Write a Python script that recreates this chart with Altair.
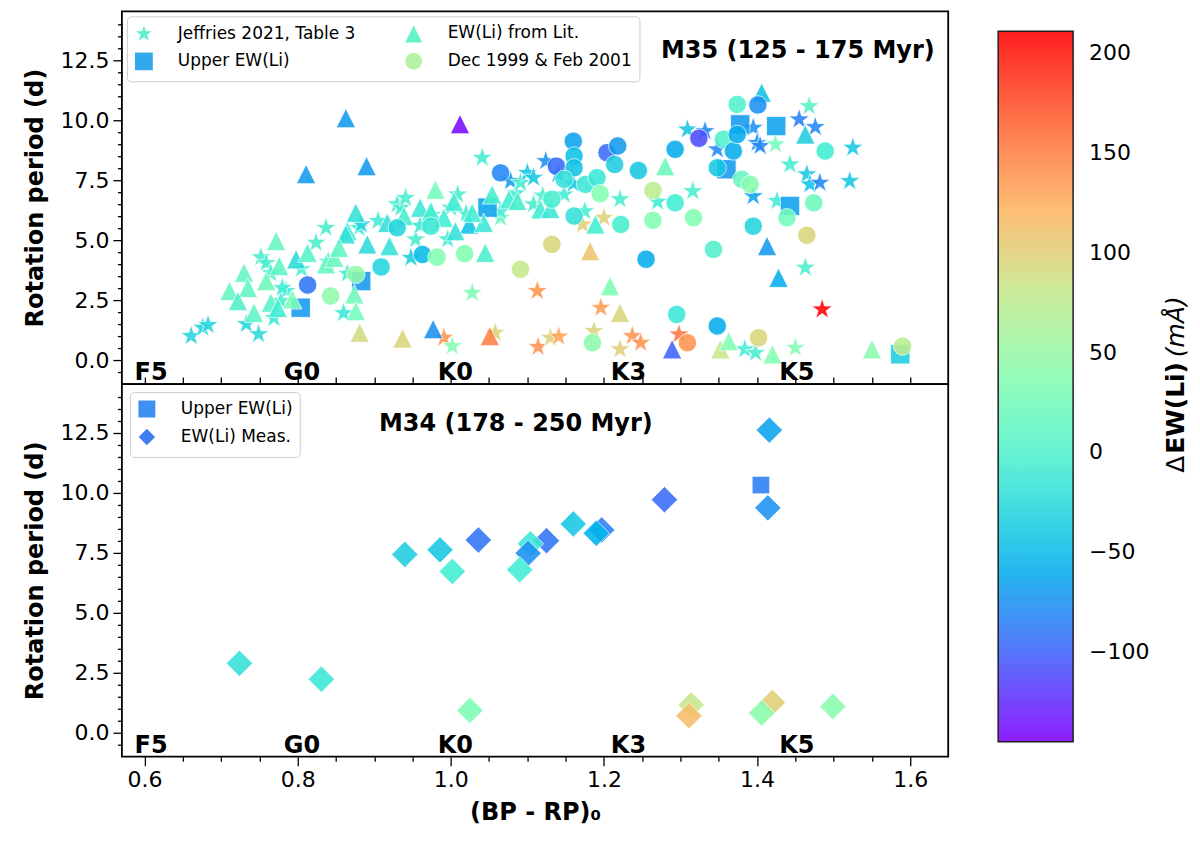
import altair as alt
import pandas as pd

# ---------------- M35 (top panel) ----------------
# Jeffries 2021, Table 3 (stars)
j21_bprp = [0.661, 0.676, 0.683, 0.733, 0.749, 0.752, 0.759, 0.765, 0.785, 0.769,
            0.778, 0.780, 0.805, 0.824, 0.837, 0.840, 0.860, 0.865, 0.880, 0.883,
            0.905, 0.930, 0.935, 0.941, 0.948, 0.954, 0.960, 0.975, 0.996, 1.000,
            1.009, 1.020, 1.028, 0.991, 1.002, 1.041, 1.050, 1.058, 1.065, 1.065,
            1.078, 1.085, 1.091, 1.100, 1.108, 1.108, 1.113, 1.114, 1.120, 1.124,
            1.130, 1.140, 1.141, 1.148, 1.160, 1.172, 1.175, 1.187, 1.196, 1.200,
            1.221, 1.221, 1.237, 1.248, 1.270, 1.298, 1.309, 1.316, 1.332, 1.348,
            1.384, 1.395, 1.395, 1.398, 1.400, 1.404, 1.424, 1.426, 1.443, 1.450,
            1.455, 1.463, 1.465, 1.468, 1.469, 1.476, 1.482, 1.485, 1.521, 1.525]
j21_prot = [1.00, 1.35, 1.46, 1.50, 1.08, 4.29, 4.04, 3.62, 2.88, 1.75,
            2.46, 3.01, 3.80, 4.89, 5.51, 4.10, 1.96, 3.60, 5.51, 5.65,
            5.80, 6.49, 6.35, 6.76, 4.26, 5.03, 5.60, 6.05, 5.03, 6.35,
            6.90, 6.10, 2.80, 0.93, 0.58, 8.43, 6.60, 1.14, 5.93, 6.20,
            7.46, 6.95, 7.39, 7.80, 7.60, 6.49, 2.88, 0.55, 6.85, 8.29,
            0.93, 7.75, 0.98, 6.90, 7.35, 5.65, 6.20, 1.21, 2.18, 5.93,
            6.70, 0.45, 1.00, 0.72, 6.60, 1.07, 9.61, 7.04, 9.54, 8.78,
            0.45, 9.68, 6.83, 0.30, 9.05, 8.92, 8.99, 6.63, 8.15, 0.51,
            10.03, 3.85, 7.74, 10.58, 7.32, 9.71, 7.39, 2.11, 7.46, 8.85]
j21_dew = [-30, -30, -28, -30, -25, -5, -8, -5, -10, -15,
           -5, -10, -5, -5, -5, -10, -15, -10, -10, -30,
           -10, -10, -10, -5, -35, -5, -15, -5, -10, -10,
           -5, -10, 30, 140, 35, -10, -8, 100, 20, -10,
           -70, -12, -10, -40, -40, -5, 140, 140, 0, -75,
           100, -50, 130, -10, -40, 100, -5, 95, 135, 100,
           -5, 100, 140, 140, -10, 155, -40, -5, -80, -80,
           -10, -75, -65, -5, -75, -80, 25, -10, -10, 35,
           -85, -5, -40, 5, -45, -80, -80, 211, -40, -40]

# Upper EW(Li) (squares)
up35_bprp = [0.804, 0.883, 1.048, 1.378, 1.425, 1.360, 1.443, 1.587]
up35_prot = [2.18, 3.29, 6.35, 9.82, 9.75, 7.95, 6.42, 0.24]
up35_dew = [-70, -70, -65, -70, -65, -70, -65, -35]

# EW(Li) from Lit. (triangles)
lit_bprp = [0.863, 1.012, 0.811, 0.890, 0.881, 0.937, 0.977, 1.051, 0.980, 0.876,
            1.004, 1.054, 1.076, 1.087, 1.045, 0.891, 0.920, 0.874, 0.876, 0.917,
            0.939, 0.960, 0.974, 0.991, 1.024, 1.043, 1.028, 1.006, 0.865, 0.863,
            0.772, 0.730, 0.711, 0.735, 0.743, 0.759, 0.776, 0.765, 0.774, 0.798,
            0.813, 0.793, 0.837, 0.848, 0.854, 0.722, 1.117, 1.130, 1.280, 1.189,
            1.182, 1.208, 1.221, 1.289, 1.352, 1.363, 1.406, 1.463, 1.413, 1.428,
            1.420, 1.550]
lit_prot = [10.08, 9.83, 7.75, 8.08, 1.14, 0.90, 1.29, 1.00, 7.10, 6.14,
            6.60, 6.90, 6.70, 6.63, 4.47, 4.82, 4.75, 2.74, 2.04, 5.72,
            6.00, 6.35, 6.20, 5.93, 5.65, 5.72, 6.14, 5.37, 5.37, 5.24,
            4.96, 3.64, 2.88, 3.01, 1.97, 3.29, 3.92, 2.39, 2.18, 4.20,
            4.47, 2.53, 3.99, 4.26, 4.68, 2.46, 6.28, 6.30, 8.08, 5.65,
            4.54, 3.08, 1.97, 0.45, 0.45, 0.79, 11.14, 9.40, 4.75, 3.43,
            0.24, 0.45]
lit_dew = [-70, -140, -70, -70, 90, 95, -75, 150, 25, -20,
           -10, -5, -10, -5, -5, -25, -20, 20, 25, -20,
           -5, -15, -10, -10, -45, -15, -10, -20, -15, -20,
           15, 15, 15, 10, 10, 20, 10, 5, -10, -25,
           5, 30, 15, 20, 10, 0, -10, -15, 20, -10,
           110, 30, 95, -100, 80, 35, -45, -35, -70, -60,
           35, 40]

# Dec 1999 & Feb 2001 (circles)
obs_bprp = [1.065, 0.930, 0.974, 0.963, 0.982, 1.018, 1.091, 0.909, 0.876, 0.843,
            0.813, 1.132, 1.138, 1.132, 1.160, 1.161, 1.161, 1.148, 1.176, 1.191,
            1.195, 1.204, 1.218, 1.214, 1.161, 1.222, 1.245, 1.264, 1.264, 1.293,
            1.293, 1.317, 1.255, 1.343, 1.324, 1.356, 1.374, 1.348, 1.369, 1.374,
            1.380, 1.391, 1.295, 1.348, 1.309, 1.185, 1.402, 1.395, 1.401, 1.489,
            1.474, 1.439, 1.465, 1.590]
obs_prot = [7.80, 5.51, 5.58, 4.40, 4.29, 4.43, 3.78, 3.88, 3.57, 2.67,
            3.13, 4.82, 8.08, 6.70, 9.12, 8.50, 8.01, 7.53, 7.32, 7.60,
            6.93, 8.64, 8.92, 8.15, 6.00, 5.65, 7.90, 7.07, 5.82, 6.55,
            8.78, 5.93, 4.20, 4.61, 9.24, 9.20, 10.65, 8.01, 8.71, 9.40,
            7.53, 7.32, 1.90, 1.42, 0.72, 0.72, 0.93, 5.58, 10.63, 8.71,
            6.55, 5.93, 5.20, 0.58]
obs_dew = [-80, -30, -15, -50, 35, 35, 80, -30, 45, 45,
           -90, 95, -95, -5, -65, -45, -45, -20, -15, -15,
           35, -95, -70, -35, -20, -5, -40, 75, 35, -10,
           -60, 35, -60, 0, -110, 0, 0, -40, -60, -60,
           15, 40, -15, -60, 140, 40, 95, -30, -75, -10,
           20, 25, 95, 75]

# ---------------- M34 (bottom panel) ----------------
up34_bprp = [1.405]
up34_prot = [10.32]
up34_dew = [-85]

meas_bprp = [1.416, 1.414, 1.279, 1.160, 1.197, 1.190, 1.125, 1.104, 1.101, 1.090,
             1.036, 0.986, 0.940, 1.002, 0.724, 0.831, 1.025, 1.314, 1.311, 1.420,
             1.406, 1.499]
meas_prot = [12.61, 9.37, 9.71, 8.70, 8.45, 8.31, 8.00, 7.87, 7.48, 6.79,
             8.03, 7.62, 7.43, 6.72, 2.89, 2.23, 0.93, 1.16, 0.71, 1.26,
             0.82, 1.09]
meas_dew = [-65, -75, -95, -40, -85, -55, -90, -15, -75, -10,
            -90, -40, -35, -10, -20, -15, 30, 80, 115, 100,
            40, 40]

# spectral type markers along the colour axis
spt_names = ['F5', 'G0', 'K0', 'K3', 'K5']
spt_bprp = [0.587, 0.782, 0.983, 1.209, 1.429]

# legend order (Vega fills legend columns top to bottom) and swatch colours
top_groups = ['Jeffries 2021, Table 3', 'Upper EW(Li)', 'EW(Li) from Lit.', 'Dec 1999 & Feb 2001']
top_swatch = ['#4ef0c6', '#1ca0ec', '#52f2c4', '#b0f29c']
bot_groups = ['Upper EW(Li)', 'EW(Li) Meas.']
bot_swatch = ['#2a84f0', '#2a70f0']

FONT = 'DejaVu Sans'


def path(pts, k):
    return 'M' + 'L'.join(f'{k * a:.3f},{k * b:.3f}' for a, b in pts) + 'Z'


# matplotlib-like marker outlines in the unit box
STAR = path([(0, -1), (-0.225, -0.309), (-0.951, -0.309), (-0.363, 0.118), (-0.588, 0.809),
             (0, 0.382), (0.588, 0.809), (0.363, 0.118), (0.951, -0.309), (0.225, -0.309)], 1.2)
TRIANGLE = path([(0, -1), (-1, 1), (1, 1)], 1.05)
SQUARE = path([(-1, -1), (1, -1), (1, 1), (-1, 1)], 1.05)


def frame(bprp, prot, dew, group):
    return pd.DataFrame({'bprp': bprp, 'prot': prot, 'dew': dew, 'group': group})


# draw order like the original: stars, squares, triangles, circles
df_top = pd.concat([
    frame(j21_bprp, j21_prot, j21_dew, top_groups[0]),
    frame(up35_bprp, up35_prot, up35_dew, top_groups[1]),
    frame(lit_bprp, lit_prot, lit_dew, top_groups[2]),
    frame(obs_bprp, obs_prot, obs_dew, top_groups[3]),
])
df_up34 = frame(up34_bprp, up34_prot, up34_dew, bot_groups[0])
df_meas = frame(meas_bprp, meas_prot, meas_dew, bot_groups[1])
df_bot = pd.concat([df_up34, df_meas])
df_spt = pd.DataFrame({'name': spt_names, 'bprp': spt_bprp})

x_ticks = [round(0.6 + 0.05 * i, 2) for i in range(21)]
y_ticks = [round(-0.5 + 0.5 * i, 1) for i in range(30)]
x_major = 'abs(datum.value * 5 - round(datum.value * 5)) < 0.01'
y_major = 'datum.value % 2.5 === 0'

x_scale = alt.Scale(domain=[0.5705, 1.6496], nice=False, zero=False)
y_scale = alt.Scale(domain=[-1.0, 14.53], nice=False, zero=False)

# matplotlib "rainbow" colormap
c_scale = alt.Scale(domain=[-145, -100.5, -56, -11.5, 33, 77.5, 122, 166.5, 211],
                    range=['#8000ff', '#4062fa', '#00b4ec', '#40ecd4', '#80ffb4',
                           '#c0ec8e', '#ffb462', '#ff6232', '#ff0000'],
                    interpolate='rgb')

y_axis = alt.Axis(title='Rotation period (d)', values=y_ticks,
                  labelExpr=f"{y_major} ? format(datum.value, '.1f') : ''",
                  tickSize={'condition': {'test': y_major, 'value': 9}, 'value': 4.5},
                  labelPadding=4, titlePadding=12, domain=False, grid=False,
                  labelOverlap=False, labelFlush=False)
x_axis = alt.Axis(title='(BP - RP)₀', values=x_ticks,
                  labelExpr=f"{x_major} ? format(datum.value, '.1f') : ''",
                  tickSize={'condition': {'test': x_major, 'value': 9}, 'value': 4.5},
                  labelPadding=4, titlePadding=10, domain=False, grid=False,
                  labelOverlap=False, labelFlush=False)
x_axis_inner = alt.Axis(values=x_ticks, labels=False, title=None, tickSize=7, offset=-7,
                        domain=False, grid=False, minExtent=0, maxExtent=0)

color_legend = alt.Legend(title=None, orient='none', legendX=877, legendY=20,
                          direction='vertical', gradientLength=711, gradientThickness=75,
                          gradientStrokeColor='black', gradientStrokeWidth=1.5,
                          values=[-100, -50, 0, 50, 100, 150, 200],
                          labelFontSize=22, labelOffset=16, padding=0)


def key_legend(ncol, offset):
    return alt.Legend(title=None, orient='top-left', offset=offset, columns=ncol,
                      padding=7, fillColor='white', strokeColor='#cccccc', cornerRadius=4,
                      labelFontSize=17, labelLimit=400, symbolSize=340, labelOffset=24,
                      columnPadding=45, rowPadding=2, symbolOpacity=0.9)


top_legend = key_legend(2, 5)
bot_legend = key_legend(1, 8)

W, H = 827, 373


def points(df, size, shape_scale, legend, xaxis):
    return alt.Chart(df).mark_point(filled=True, opacity=0.88, stroke='white',
                                    strokeWidth=0.8, size=size).encode(
        x=alt.X('bprp:Q', scale=x_scale, axis=xaxis),
        y=alt.Y('prot:Q', scale=y_scale, axis=y_axis),
        color=alt.Color('dew:Q', scale=c_scale, legend=color_legend),
        shape=alt.Shape('group:N', scale=shape_scale, legend=legend),
    )


def key(df, shape_scale, swatch_scale, legend, xaxis):
    # invisible layer that only carries the per-entry legend colours
    return alt.Chart(df).mark_point(filled=True, opacity=0, stroke='white', strokeWidth=0.8).encode(
        x=alt.X('bprp:Q', scale=x_scale, axis=xaxis),
        y=alt.Y('prot:Q', scale=y_scale, axis=y_axis),
        shape=alt.Shape('group:N', scale=shape_scale, legend=legend),
        fill=alt.Fill('group:N', scale=swatch_scale, legend=legend),
    )


def labels(xaxis):
    return alt.Chart(df_spt).mark_text(align='left', baseline='alphabetic', font=FONT,
                                       fontSize=24, fontWeight='bold', color='black').encode(
        x=alt.X('bprp:Q', scale=x_scale, axis=xaxis),
        y=alt.YDatum(-0.85, scale=y_scale, axis=y_axis),
        text='name:N',
    )


def note(text, x, y, align, xaxis, angle=0, size=24, weight='bold', style='normal'):
    return alt.Chart(pd.DataFrame({'t': [text], 'x': [x], 'y': [y]})).mark_text(
        align=align, baseline='middle', font=FONT, fontSize=size, fontWeight=weight,
        fontStyle=style, color='black', angle=angle).encode(
        x=alt.X('x:Q', scale=x_scale, axis=xaxis),
        y=alt.Y('y:Q', scale=y_scale, axis=y_axis),
        text='t:N',
    )


# ---- top panel ----
top_shape = alt.Scale(domain=top_groups, range=[STAR, SQUARE, TRIANGLE, 'circle'])
top_fill = alt.Scale(domain=top_groups, range=top_swatch)
top = alt.layer(
    points(df_top, 340, top_shape, top_legend, x_axis_inner),
    key(df_top, top_shape, top_fill, top_legend, x_axis_inner),
    labels(x_axis_inner),
    note('M35 (125 - 175 Myr)', 1.632, 12.875, 'right', x_axis_inner),
).properties(width=W, height=H)

# ---- bottom panel ----
bot_shape = alt.Scale(domain=bot_groups, range=['square', 'diamond'])
bot_fill = alt.Scale(domain=bot_groups, range=bot_swatch)
bottom = alt.layer(
    points(df_up34, 310, bot_shape, bot_legend, x_axis),
    points(df_meas, 700, bot_shape, bot_legend, x_axis),
    key(df_bot, bot_shape, bot_fill, bot_legend, x_axis),
    labels(x_axis),
    note('M34 (178 - 250 Myr)', 1.085, 12.85, 'center', x_axis),
    # colour-bar title "ΔEW(Li) (mÅ)", read bottom to top beside the colour bar
    note('Δ', 1.947, 10.83, 'left', x_axis, angle=270, size=25, weight='normal'),
    note('EW(Li)', 1.947, 11.62, 'left', x_axis, angle=270, size=25),
    note('(mÅ)', 1.947, 15.65, 'left', x_axis, angle=270, size=25, weight='normal',
         style='italic'),
).properties(width=W, height=H)

chart = alt.vconcat(top, bottom, spacing=0, bounds='flush').resolve_scale(
    color='shared', shape='independent', fill='independent'
).resolve_legend(
    color='shared', shape='independent', fill='independent'
).properties(
    padding={'left': 15, 'top': 2, 'right': 2, 'bottom': 2}
).configure(font=FONT).configure_view(
    stroke='black', strokeWidth=1.8
).configure_axis(
    labelFont=FONT, titleFont=FONT, labelFontSize=22, titleFontSize=24, titleFontWeight='bold',
    labelColor='black', titleColor='black', tickColor='black', tickWidth=1.3
).configure_legend(labelFont=FONT, labelColor='black')

chart.save("out.html", embed_options={"renderer": "svg", "actions": False})
